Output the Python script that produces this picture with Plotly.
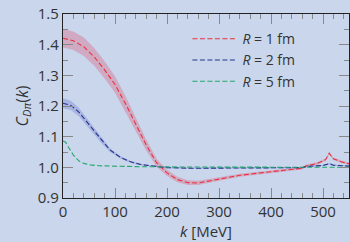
import plotly.graph_objects as go

# ---- data ----
k_r1 = [0, 20, 40, 60, 80, 100, 120, 140, 160, 180, 200, 220, 240, 260, 280, 300, 340, 380, 420, 460, 468, 490, 505, 512, 520, 535, 550]
c_r1 = [1.421, 1.413, 1.393, 1.360, 1.318, 1.270, 1.208, 1.140, 1.073, 1.015, 0.982, 0.960, 0.950, 0.949, 0.955, 0.962, 0.974, 0.982, 0.989, 0.997, 1.005, 1.013, 1.025, 1.046, 1.028, 1.018, 1.012]
e_r1 = [0.030, 0.030, 0.030, 0.029, 0.028, 0.027, 0.025, 0.022, 0.018, 0.013, 0.010, 0.009, 0.008, 0.007, 0.006, 0.006, 0.005, 0.005, 0.004, 0.004, 0.004, 0.004, 0.004, 0.004, 0.004, 0.004, 0.004]

k_r2 = [0, 15, 30, 45, 60, 75, 90, 110, 130, 150, 175, 200, 250, 300, 400, 460, 470, 500, 512, 520, 550]
c_r2 = [1.209, 1.202, 1.181, 1.150, 1.117, 1.085, 1.057, 1.033, 1.018, 1.009, 1.003, 0.999, 0.997, 0.997, 0.998, 0.999, 1.003, 1.006, 1.012, 1.007, 1.004]
e_r2 = [0.016, 0.015, 0.014, 0.012, 0.010, 0.008, 0.006, 0.004, 0.003, 0.002, 0.002, 0.002, 0.002, 0.002, 0.002, 0.002, 0.002, 0.002, 0.002, 0.002, 0.002]

k_r5 = [0, 5, 10, 15, 20, 27, 33, 42, 52, 70, 100, 150, 250, 400, 470, 512, 550]
c_r5 = [1.086, 1.082, 1.067, 1.052, 1.040, 1.027, 1.018, 1.012, 1.008, 1.005, 1.003, 1.002, 1.001, 1.001, 1.000, 1.001, 1.000]

labels = ["<i>R</i> = 1 fm", "<i>R</i> = 2 fm", "<i>R</i> = 5 fm"]

BG = "#c9d6ec"
fig = go.Figure()

def band(k, c, e, color):
    up = [a + b for a, b in zip(c, e)]
    lo = [a - b for a, b in zip(c, e)]
    fig.add_trace(go.Scatter(x=k + k[::-1], y=up + lo[::-1], fill="toself",
                             fillcolor=color, line=dict(width=0), mode="lines",
                             showlegend=False, hoverinfo="skip"))

band(k_r1, c_r1, e_r1, "rgba(222,90,120,0.35)")
band(k_r2, c_r2, e_r2, "rgba(90,100,200,0.30)")

fig.add_trace(go.Scatter(x=k_r1, y=c_r1, mode="lines", name=labels[0],
                         line=dict(color="#e8333c", width=1.1, dash="5px,2.5px")))
fig.add_trace(go.Scatter(x=k_r2, y=c_r2, mode="lines", name=labels[1],
                         line=dict(color="#27348b", width=1.1, dash="5px,2.5px")))
fig.add_trace(go.Scatter(x=k_r5, y=c_r5, mode="lines", name=labels[2],
                         line=dict(color="#22a66a", width=1.1, dash="5px,2.5px")))

font = dict(family="Open Sans", size=15, color="#333333")
axis_common = dict(showline=True, linecolor="#222222", linewidth=1.2, mirror="ticks",
                   ticks="inside", tickcolor="#888888", tickwidth=1.2, automargin=False,
                   showgrid=False, zeroline=False, tickfont=font)

fig.update_xaxes(range=[0, 550], dtick=100, ticklen=10,
                 minor=dict(dtick=20, ticklen=5, ticks="inside", tickcolor="#888888", showgrid=False),
                 title=dict(text="<i>k</i> [MeV]", font=font, standoff=0), **axis_common)
fig.update_yaxes(range=[0.9, 1.5], dtick=0.1, tickformat=".1f", ticklen=10,
                 minor=dict(dtick=0.05, ticklen=5, ticks="inside", tickcolor="#888888", showgrid=False),
                 title=dict(text="<i>C</i><sub><i>Dπ</i></sub>(<i>k</i>)",
                            font=dict(family="Open Sans", size=16, color="#333333"), standoff=5),
                 **axis_common)

fig.update_layout(width=350, height=242, margin=dict(l=63, r=1, t=14, b=44),
                  paper_bgcolor=BG, plot_bgcolor=BG, font=font,
                  legend=dict(x=0.435, y=0.95, xanchor="left", yanchor="top",
                              bgcolor="rgba(0,0,0,0)", font=dict(family="Open Sans", size=14, color="#333333"),
                              itemwidth=45, tracegroupgap=0))

fig.write_html("out.html", config={"displayModeBar": False},
               post_script="document.body.style.margin='0px';document.body.style.overflow='hidden';")
